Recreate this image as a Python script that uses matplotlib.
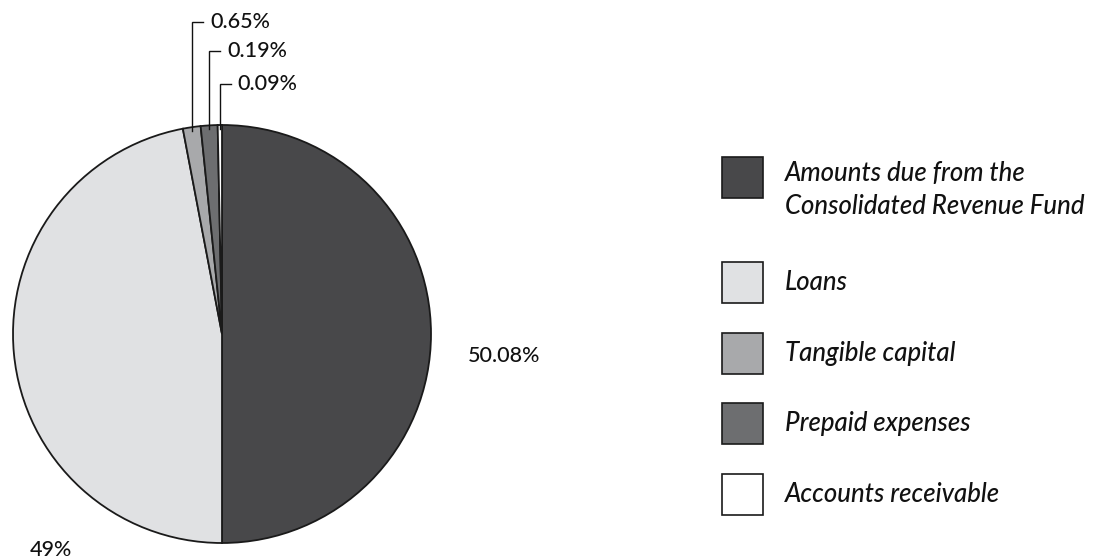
import numpy as np
import matplotlib
matplotlib.use("Agg")
import matplotlib.pyplot as plt
from matplotlib.patches import Rectangle

categories = ["Amounts due from the\nConsolidated Revenue Fund", "Loans",
              "Tangible capital", "Prepaid expenses", "Accounts receivable"]
# slice sizes as drawn in the picture (small slices are visually enlarged)
slice_sizes = [50.0, 47.0, 1.37, 1.3, 0.33]
value_labels = ["50.08%", "49%", "0.65%", "0.19%", "0.09%"]
colors = ["#48484a", "#e0e1e3", "#a8a9ab", "#6d6e70", "#ffffff"]

W, H = 1093, 560
fig = plt.figure(figsize=(W / 100, H / 100), dpi=100)
ax = fig.add_axes([0, 0, 1, 1])

cx, cy, R = 222, H - 334, 209
wedges, _ = ax.pie(slice_sizes, colors=colors, startangle=90, counterclock=False,
                   center=(cx, cy), radius=R, frame=True,
                   wedgeprops=dict(edgecolor="#1a1a1a", linewidth=1.3))
ax.set_xlim(0, W)
ax.set_ylim(0, H)
ax.set_aspect("equal")
ax.axis("off")

font = "Lato"
fs = 15.5
# big labels
ax.text(468, H - 356, value_labels[0], fontsize=fs, family=font, weight="medium",
        va="center", ha="left", color="#111")
ax.text(30, H - 550, value_labels[1], fontsize=fs, family=font, weight="medium",
        va="center", ha="left", color="#111")

# leader labels for small slices
label_y = [H - 22, H - 51, H - 84]
for w, lab, ly in zip(wedges[2:], value_labels[2:], label_y):
    ang = np.deg2rad((w.theta1 + w.theta2) / 2)
    px = cx + (R - 4) * np.cos(ang)
    py = cy + (R - 4) * np.sin(ang)
    ax.plot([px, px, px + 11], [py, ly, ly], color="#111", lw=1.0, solid_joinstyle="miter")
    ax.text(px + 18, ly, lab, fontsize=fs, family=font, weight="medium",
            va="center", ha="left", color="#111")

# legend
sq_top = [157, 262, 333, 403, 474]
text_c = [190, 283, 353, 424, 495]
for c, name, t, tc in zip(colors, categories, sq_top, text_c):
    ax.add_patch(Rectangle((722, H - t - 41), 41, 41, facecolor=c, edgecolor="#1a1a1a", lw=1.2))
    ax.text(785, H - tc, name, fontsize=18.5, family=font, style="italic", weight="medium",
            va="center", ha="left", color="#111", linespacing=1.45)

fig.savefig("out.png", dpi=100)
